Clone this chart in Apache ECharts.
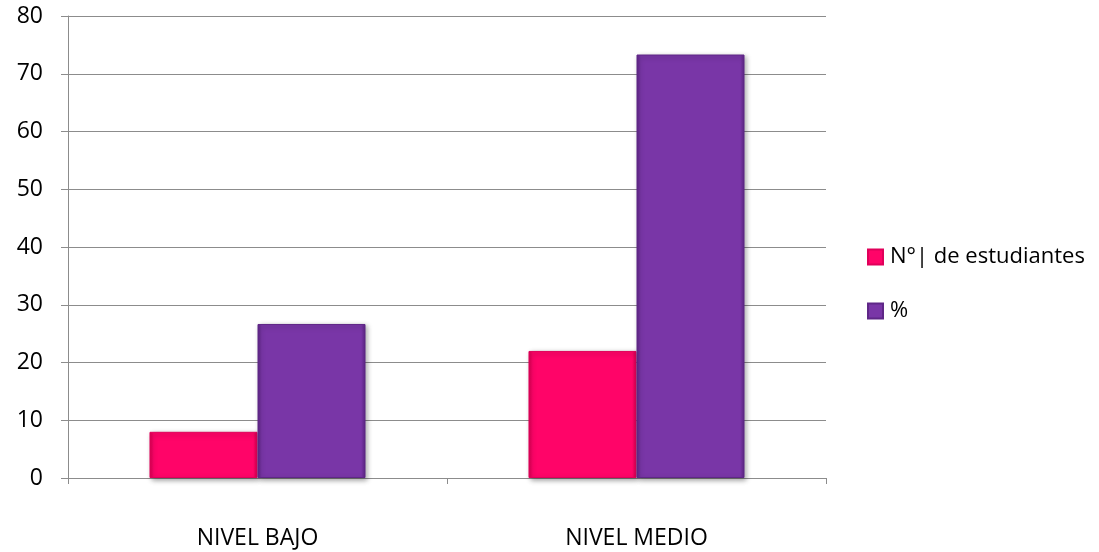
<!DOCTYPE html>
<html>
<head>
<meta charset="utf-8">
<script src="https://cdn.jsdelivr.net/npm/echarts@6/dist/echarts.min.js"></script>
<style>
  html, body { margin: 0; padding: 0; background: #fff; }
  #chart { width: 1099px; height: 552px; }
</style>
</head>
<body>
<div id="chart"></div>
<script>
// Student level distribution: count and percentage per level
const categories = ['NIVEL BAJO', 'NIVEL MEDIO'];
const studentCounts = [8, 22];
const percentages = [26.67, 73.33];
const seriesNames = ['N°| de estudiantes', '%'];
const yTicks = { min: 0, max: 80, interval: 10 };

const FONT = '"Open Sans", "Noto Sans", sans-serif';
const GRID_COLOR = '#8c8c8c';

// Horizontal shading gives the bars a slightly bevelled edge
function bevelFill(base, dark) {
  return new echarts.graphic.LinearGradient(0, 0, 1, 0, [
    { offset: 0, color: dark },
    { offset: 0.04, color: base },
    { offset: 0.96, color: base },
    { offset: 1, color: dark }
  ]);
}

const chart = echarts.init(document.getElementById('chart'), null, { renderer: 'canvas' });
chart.setOption({
  animation: false,
  backgroundColor: '#ffffff',
  grid: { left: 68, right: 273, top: 16, bottom: 74, containLabel: false },
  legend: {
    orient: 'vertical',
    left: 867,
    top: 246,
    padding: 0,
    itemWidth: 15,
    itemHeight: 15,
    itemGap: 32,
    icon: 'rect',
    textStyle: { fontFamily: FONT, fontSize: 22, color: '#000', padding: [0, 0, 0, 2] },
    data: seriesNames
  },
  xAxis: {
    type: 'category',
    data: categories,
    axisLine: { lineStyle: { color: GRID_COLOR, width: 1 } },
    axisTick: { show: true, length: 6, lineStyle: { color: GRID_COLOR }, alignWithLabel: false },
    axisLabel: { fontFamily: FONT, fontSize: 23, color: '#000', margin: 49 }
  },
  yAxis: {
    type: 'value',
    min: yTicks.min,
    max: yTicks.max,
    interval: yTicks.interval,
    axisLine: { show: true, lineStyle: { color: GRID_COLOR, width: 1 } },
    axisTick: { show: true, length: 7, lineStyle: { color: GRID_COLOR } },
    splitLine: { lineStyle: { color: GRID_COLOR, width: 1 } },
    axisLabel: { fontFamily: FONT, fontSize: 23, color: '#000', margin: 25 }
  },
  series: [
    {
      name: seriesNames[0],
      type: 'bar',
      data: studentCounts,
      barGap: '0%',
      barCategoryGap: '43%',
      itemStyle: {
        color: bevelFill('#ff0468', '#d3004f'),
        borderColor: '#e0005a',
        borderWidth: 1,
        shadowColor: 'rgba(0,0,0,0.35)',
        shadowBlur: 5,
        shadowOffsetX: 2,
        shadowOffsetY: 2
      }
    },
    {
      name: seriesNames[1],
      type: 'bar',
      data: percentages,
      itemStyle: {
        color: bevelFill('#7936a7', '#5c2482'),
        borderColor: '#5f2787',
        borderWidth: 1,
        shadowColor: 'rgba(0,0,0,0.35)',
        shadowBlur: 5,
        shadowOffsetX: 2,
        shadowOffsetY: 2
      }
    }
  ]
});
</script>
</body>
</html>
